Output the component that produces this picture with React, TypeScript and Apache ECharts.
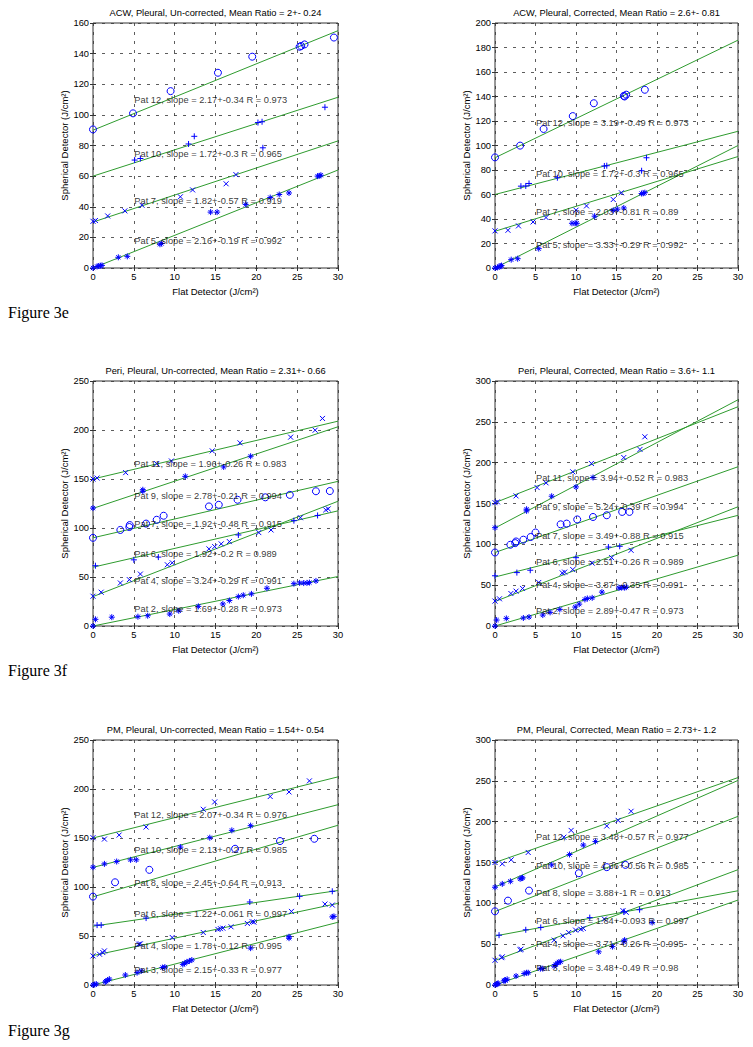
import React, { useEffect, useRef } from "react";
import * as echarts from "echarts";

type Pt = [number, number];

// ---------- Axis settings ----------
const X_MIN = 0;
const X_MAX = 30;
const X_STEP = 5;
const FIT_X: number[] = [0, 30];
const LABEL_X = 5;

// ---------- Panel 1: ACW, Un-corrected ----------
const acwU_pat12: Pt[] = [[0, 90.5], [4.9, 101], [9.5, 115.5], [15.3, 127.5], [19.5, 138], [25.3, 144.5], [25.5, 145], [25.9, 146], [29.5, 150.5]];
const acwU_pat10: Pt[] = [[5.1, 70.5], [5.8, 71.5], [11.7, 81], [12.4, 86], [20.2, 95], [20.7, 95.5], [20.8, 78.5], [28.4, 105]];
const acwU_pat7: Pt[] = [[0, 30.5], [0.3, 31], [1.8, 34], [3.9, 37.3], [6, 41], [10.7, 46.5], [12.2, 51], [16.3, 55], [17.5, 61]];
const acwU_pat5: Pt[] = [[0, 0], [0.5, 1], [0.7, 1.3], [0.9, 1.5], [1.1, 1.7], [3.1, 7], [4.2, 7.6], [8.2, 15.5], [8.4, 16], [14.4, 36.5], [15.2, 36.5], [18.7, 41.5], [21.7, 46], [22.8, 48], [24, 49], [27.5, 60], [27.7, 60.2], [27.9, 60.6]];
const acwU_fitStart = [90, 60, 30, 0];
const acwU_fitEnd = [155, 111.5, 83, 64];
const acwU_labelY = [110, 74.5, 44, 17.5];
const acwU_labels = [
  "Pat 12, slope = 2.17+-0.34 R = 0.973",
  "Pat 10, slope = 1.72+-0.3 R = 0.965",
  "Pat 7, slope = 1.82+-0.57 R = 0.919",
  "Pat 5, slope = 2.16+-0.19 R = 0.992",
];

// ---------- Panel 2: ACW, Corrected ----------
const acwC_pat12: Pt[] = [[0, 90.3], [3.1, 99.9], [6, 113.5], [9.6, 124], [12.2, 134.5], [15.9, 140.5], [16, 140], [16.2, 141.5], [18.5, 145.5]];
const acwC_pat10: Pt[] = [[3.2, 66.8], [3.8, 67], [4.2, 69], [7.7, 73.7], [13.5, 83.3], [13.8, 83.5], [18.1, 79.4], [18.7, 90]];
const acwC_pat7: Pt[] = [[0, 30.3], [1.6, 30.8], [2.9, 34.4], [4.7, 37.6], [6.3, 41.2], [10, 47.2], [11.3, 50.7], [14.6, 55.9], [15.6, 61.4]];
const acwC_pat5: Pt[] = [[0, 0], [0.3, 0.5], [0.5, 1], [0.7, 1.5], [0.8, 2], [2, 6.8], [2.8, 7.6], [5.4, 15.8], [9.5, 36.5], [9.9, 36.5], [10.1, 36.5], [12.3, 42.3], [14.6, 47], [15.1, 48], [15.9, 49], [18.1, 60.8], [18.3, 61], [18.5, 61.5]];
const acwC_fitStart = [90, 60, 30, 0];
const acwC_fitEnd = [186, 111.6, 91, 100];
const acwC_labelY = [118, 77, 46, 18.5];
const acwC_labels = [
  "Pat 12, slope = 3.19+-0.49 R = 0.973",
  "Pat 10, slope = 1.72+-0.3 R = 0.965",
  "Pat 7, slope = 2.03+-0.81 R = 0.89",
  "Pat 5, slope = 3.33+-0.29 R = 0.992",
];

// ---------- Panel 3: Peri, Un-corrected ----------
const periU_pat11: Pt[] = [[0, 150], [0.5, 151], [4, 156.5], [7.8, 165.7], [9.6, 168.4], [14.6, 178.7], [18, 186.9], [24.2, 192.7], [27.2, 199.8], [28.1, 211.8]];
const periU_pat9: Pt[] = [[0, 120.3], [6.1, 137.5], [6.1, 139], [11.3, 152.7], [16, 162.3], [19.3, 173.2]];
const periU_pat7: Pt[] = [[0, 90], [3.35, 98], [4.45, 101], [4.5, 103], [6.5, 104.5], [7.8, 108.4], [8.65, 112.5], [14.2, 122], [15.4, 123.7], [17.7, 128.8], [21.1, 131.3], [24.1, 133.8], [27.3, 137.5], [29, 137.7]];
const periU_pat6: Pt[] = [[0.3, 61.5], [5, 67.5], [8, 70.3], [17.8, 92.9], [24.6, 107.5], [27.5, 112.8]];
const periU_pat4: Pt[] = [[0, 30.4], [1, 34.5], [3.35, 43.9], [4.45, 47.3], [5.8, 53], [9.1, 62.5], [9.7, 64.5], [14.2, 78.7], [14.9, 81], [15.7, 83.8], [16.7, 86.1], [20.3, 95.3], [21.8, 98], [25.4, 110.5], [28.5, 118.5], [28.8, 119.5]];
const periU_pat2: Pt[] = [[0, 0], [0.3, 6.8], [2.3, 9], [5.5, 9.5], [6.7, 10.5], [9.4, 12.2], [10.5, 15.5], [12.9, 20], [15.9, 22.5], [16.7, 26], [17.8, 30], [18.4, 31.4], [19.4, 32.8], [21.3, 38.5], [24.6, 43.2], [25.3, 44], [25.8, 43.8], [26.2, 44], [26.5, 44.3], [27.3, 46]];
const periU_fitStart = [150, 120, 90, 60, 30, 0];
const periU_fitEnd = [209, 203.3, 147.6, 117.5, 127.3, 50.5];
const periU_labelY = [165.7, 133, 104, 73.6, 45.6, 16.9];
const periU_labels = [
  "Pat 11, slope = 1.96+-0.26 R = 0.983",
  "Pat 9, slope = 2.78+-0.21 R = 0.994",
  "Pat 7, slope = 1.92+-0.48 R = 0.915",
  "Pat 6, slope = 1.92+-0.2 R = 0.989",
  "Pat 4, slope = 3.24+-0.29 R = 0.991",
  "Pat 2, slope = 1.69+-0.28 R = 0.973",
];

// ---------- Panel 4: Peri, Corrected ----------
const periC_pat11: Pt[] = [[0, 151], [0.3, 152], [2.6, 159.3], [5.2, 169.5], [6.3, 175.3], [9.6, 188.8], [11.9, 199], [15.9, 206.3], [17.9, 216.2], [18.5, 231.7]];
const periC_pat9: Pt[] = [[0, 120.4], [3.9, 141], [3.9, 143], [7, 158.9], [10, 170.3], [12.1, 181.8]];
const periC_pat7: Pt[] = [[0, 90], [1.9, 99.5], [2.5, 101.5], [2.6, 103.5], [3.5, 105.7], [4.4, 109], [5, 114.5], [8.1, 124.5], [8.85, 125.4], [10.15, 130.5], [12.1, 133.5], [13.8, 135.6], [15.7, 139.7], [16.6, 139.7]];
const periC_pat6: Pt[] = [[0, 61.5], [2.7, 65.4], [4.35, 68.3], [10, 83.7], [14, 96.7], [15.4, 97.6]];
const periC_pat4: Pt[] = [[0, 30.5], [0.55, 33.3], [1.96, 39.8], [2.6, 42.7], [3.4, 46], [5.4, 53.3], [8.3, 65], [8.6, 66], [9.6, 69.1], [12, 77], [14.4, 83.7], [16.8, 92.7]];
const periC_pat2: Pt[] = [[0, 0], [0.2, 7.3], [1.4, 9.3], [3.5, 9.8], [4.2, 11], [5.9, 13.4], [6.8, 16.7], [8, 20.3], [9.9, 23.2], [10.4, 26.8], [11.1, 32.5], [11.4, 33.7], [12, 34.5], [13.2, 41.5], [15.3, 46.7], [15.6, 47], [16, 47], [16.2, 47.5]];
const periC_fitStart = [151, 120, 90, 60, 30, 0];
const periC_fitEnd = [268.5, 277, 195, 135.5, 146, 86.7];
const periC_labelY = [181.4, 145.8, 110, 78.5, 50, 18.7];
const periC_labels = [
  "Pat 11, slope = 3.94+-0.52 R = 0.983",
  "Pat 9, slope = 5.24+-0.39 R = 0.994",
  "Pat 7, slope = 3.49+-0.88 R = 0.915",
  "Pat 6, slope = 2.51+-0.26 R = 0.989",
  "Pat 4, slope = 3.87+-0.35 R = 0.991",
  "Pat 2, slope = 2.89+-0.47 R = 0.973",
];

// ---------- Panel 5: PM, Un-corrected ----------
const pmU_pat12: Pt[] = [[0, 150.3], [1.4, 148.9], [3.2, 153], [6.5, 161.2], [13.5, 179.3], [14.9, 186.8], [21.7, 192.3], [24, 197], [26.5, 208.3]];
const pmU_pat10: Pt[] = [[0, 120.2], [1.4, 123.6], [2.9, 126], [4.6, 127.7], [5.3, 127.7], [10.7, 140.7], [14.3, 150.3], [17, 157.8], [19.3, 162.6]];
const pmU_pat8: Pt[] = [[0, 90.2], [2.7, 104.8], [6.9, 117.5], [17.4, 139], [22.9, 146.9], [27.1, 149.2]];
const pmU_pat6: Pt[] = [[0.5, 61.1], [1, 61.1], [6.5, 68.3], [19.2, 84.7], [25.3, 90.5], [29.3, 95.6]];
const pmU_pat4: Pt[] = [[0, 29.7], [0.8, 31.4], [1.2, 33.1], [1.4, 34.8], [5.6, 41.7], [5.8, 42], [9.7, 48.5], [13.5, 53.6], [15.3, 56.7], [15.6, 57.5], [15.9, 58], [16.9, 59.4], [18.9, 62.8], [19.5, 64.5], [19.7, 64.2], [24.3, 75.1], [28.4, 82.6], [29.3, 81.6]];
const pmU_pat3: Pt[] = [[0, 0], [0.2, 0.5], [0.4, 1], [1.5, 3], [1.6, 4], [1.8, 5], [2, 6], [3.96, 10.2], [5.4, 12.6], [5.9, 14.3], [8.5, 17.8], [8.8, 18.3], [11, 21], [11.2, 22], [11.5, 23.5], [11.8, 24.5], [12.1, 25.5], [19.3, 37.6], [24, 47.8], [24, 49.2], [29.3, 69.5], [29.5, 70]];
const pmU_fitStart = [150, 120, 90, 60, 30, 0];
const pmU_fitEnd = [212.4, 184, 163, 96.4, 83.3, 64];
const pmU_labelY = [173.8, 137.3, 103.8, 72.4, 39.3, 15];
const pmU_labels = [
  "Pat 12, slope = 2.07+-0.34 R = 0.976",
  "Pat 10, slope = 2.13+-0.27 R = 0.985",
  "Pat 8, slope = 2.45+-0.64 R = 0.913",
  "Pat 6, slope = 1.22+-0.061 R = 0.997",
  "Pat 4, slope = 1.78+-0.12 R = 0.995",
  "Pat 3, slope = 2.15+-0.33 R = 0.977",
];

// ---------- Panel 6: PM, Corrected ----------
const pmC_pat12: Pt[] = [[0, 150], [0.9, 148.4], [2, 153.3], [4.1, 162.3], [8.5, 181], [9.4, 189.3], [13.8, 194.7], [15.2, 201.6], [16.8, 212.7]];
const pmC_pat10: Pt[] = [[0, 119.7], [0.9, 123.8], [1.9, 127], [3.1, 130], [3.3, 130.8], [3.4, 131.2], [7, 147.1], [9.2, 159.8], [10.9, 171.3], [12.4, 175.8]];
const pmC_pat8: Pt[] = [[0, 90.2], [1.6, 103.3], [4.2, 115.6], [10.35, 136.9], [13.8, 144.3], [16.1, 147.1]];
const pmC_pat6: Pt[] = [[0.5, 61], [3.8, 67.6], [5.65, 70.5], [11.7, 82.5], [15.9, 89.8], [17.85, 92.2]];
const pmC_pat4: Pt[] = [[0, 30.3], [0.8, 33.5], [0.9, 34.5], [3.1, 43], [3.2, 43.8], [7.3, 54.9], [8.4, 60.2], [9.1, 64.3], [9.95, 67.2], [10.6, 68.3], [10.9, 69.3], [13.5, 80.7], [15.8, 91], [16.2, 89]];
const pmC_pat3: Pt[] = [[0, 0], [0.2, 1], [0.3, 1.5], [0.4, 2], [1.1, 5], [1.2, 6], [1.3, 5.5], [1.5, 7], [2.6, 11], [3.6, 14], [3.9, 15], [4.1, 15], [5.6, 20], [5.9, 20], [7.3, 23], [7.5, 25], [7.7, 27], [7.9, 28], [8.1, 28.5], [12.8, 40.6], [14.5, 47], [15.9, 53], [16, 55], [19.4, 76.5]];
const pmC_fitStart = [150, 120, 90, 60, 30, 0];
const pmC_fitEnd = [254, 250.5, 206.5, 115.4, 141.2, 104];
const pmC_labelY = [181, 145.5, 112.3, 77.9, 50, 20.5];
const pmC_labels = [
  "Pat 12, slope = 3.48+-0.57 R = 0.977",
  "Pat 10, slope = 4.36+-0.56 R = 0.985",
  "Pat 8, slope = 3.88+-1 R = 0.913",
  "Pat 6, slope = 1.84+-0.093 R = 0.997",
  "Pat 4, slope = 3.71+-0.26 R = 0.995",
  "Pat 3, slope = 3.48+-0.49 R = 0.98",
];

// ---------- Titles / figure labels ----------
const panelTitles = [
  "ACW, Pleural, Un-corrected, Mean Ratio = 2+- 0.24",
  "ACW, Pleural, Corrected, Mean Ratio = 2.6+- 0.81",
  "Peri, Pleural, Un-corrected, Mean Ratio = 2.31+- 0.66",
  "Peri, Pleural, Corrected, Mean Ratio = 3.6+- 1.1",
  "PM, Pleural, Un-corrected, Mean Ratio = 1.54+- 0.54",
  "PM, Pleural, Corrected, Mean Ratio = 2.73+- 1.2",
];
const panelYMax = [160, 200, 250, 300, 250, 300];
const panelYStep = [20, 20, 50, 50, 50, 50];
const figureLabels = ["Figure 3e", "Figure 3f", "Figure 3g"];
const X_NAME = "Flat Detector (J/cm\u00B2)";
const Y_NAME = "Spherical Detector (J/cm\u00B2)";

// ---------- Markers ----------
const SYM: Record<string, string> = {
  o: "circle",
  plus: "path://M5 0L5 10M0 5L10 5",
  x: "path://M0 0L10 10M10 0L0 10",
  star: "path://M5 0L5 10M0 5L10 5M1.5 1.5L8.5 8.5M8.5 1.5L1.5 8.5",
};
const SYM_SIZE: Record<string, number> = { o: 7, plus: 6, x: 5, star: 6 };

const panelSeries: { pts: Pt[]; marker: string }[][] = [
  [
    { pts: acwU_pat12, marker: "o" },
    { pts: acwU_pat10, marker: "plus" },
    { pts: acwU_pat7, marker: "x" },
    { pts: acwU_pat5, marker: "star" },
  ],
  [
    { pts: acwC_pat12, marker: "o" },
    { pts: acwC_pat10, marker: "plus" },
    { pts: acwC_pat7, marker: "x" },
    { pts: acwC_pat5, marker: "star" },
  ],
  [
    { pts: periU_pat11, marker: "x" },
    { pts: periU_pat9, marker: "star" },
    { pts: periU_pat7, marker: "o" },
    { pts: periU_pat6, marker: "plus" },
    { pts: periU_pat4, marker: "x" },
    { pts: periU_pat2, marker: "star" },
  ],
  [
    { pts: periC_pat11, marker: "x" },
    { pts: periC_pat9, marker: "star" },
    { pts: periC_pat7, marker: "o" },
    { pts: periC_pat6, marker: "plus" },
    { pts: periC_pat4, marker: "x" },
    { pts: periC_pat2, marker: "star" },
  ],
  [
    { pts: pmU_pat12, marker: "x" },
    { pts: pmU_pat10, marker: "star" },
    { pts: pmU_pat8, marker: "o" },
    { pts: pmU_pat6, marker: "plus" },
    { pts: pmU_pat4, marker: "x" },
    { pts: pmU_pat3, marker: "star" },
  ],
  [
    { pts: pmC_pat12, marker: "x" },
    { pts: pmC_pat10, marker: "star" },
    { pts: pmC_pat8, marker: "o" },
    { pts: pmC_pat6, marker: "plus" },
    { pts: pmC_pat4, marker: "x" },
    { pts: pmC_pat3, marker: "star" },
  ],
];
const panelFitStart = [acwU_fitStart, acwC_fitStart, periU_fitStart, periC_fitStart, pmU_fitStart, pmC_fitStart];
const panelFitEnd = [acwU_fitEnd, acwC_fitEnd, periU_fitEnd, periC_fitEnd, pmU_fitEnd, pmC_fitEnd];
const panelLabelY = [acwU_labelY, acwC_labelY, periU_labelY, periC_labelY, pmU_labelY, pmC_labelY];
const panelLabels = [acwU_labels, acwC_labels, periU_labels, periC_labels, pmU_labels, pmC_labels];

// ---------- Layout ----------
const W = 753;
const H = 1047;
const ROW_TOP = [23, 381, 740];
const COL_LEFT = [93, 495];
const COL_WIDTH = [245, 243];
const PLOT_H = 245;
const FIG_LABEL_Y = [312, 670, 1030];

const SANS = "'Liberation Sans', Arial, Helvetica, sans-serif";
const SERIF = "'Liberation Serif', 'Times New Roman', serif";
const FS = 9.3;
const BLUE = "#0000ff";
const GREEN = "#2e9b2e";
const AX = "#333";

function buildOption() {
  const grids: any[] = [];
  const xAxes: any[] = [];
  const yAxes: any[] = [];
  const series: any[] = [];
  const graphics: any[] = [];

  for (let i = 0; i < 6; i++) {
    const row = Math.floor(i / 2);
    const col = i % 2;
    const left = COL_LEFT[col];
    const width = COL_WIDTH[col];
    const top = ROW_TOP[row];
    grids.push({
      left,
      top,
      width,
      height: PLOT_H,
      show: true,
      borderColor: AX,
      borderWidth: 1,
      backgroundColor: "transparent",
      containLabel: false,
    });
    const tick = { show: true, inside: true, length: 3, lineStyle: { color: AX, width: 1 } };
    const split = { show: true, lineStyle: { color: AX, width: 0.8, type: [3, 6] } };
    xAxes.push({
      type: "value",
      gridIndex: i,
      position: "bottom",
      min: X_MIN,
      max: X_MAX,
      interval: X_STEP,
      axisLine: { show: false },
      axisTick: tick,
      axisLabel: { fontSize: FS, color: "#000", margin: 4, fontFamily: SANS },
      splitLine: split,
      name: X_NAME,
      nameLocation: "middle",
      nameGap: 18,
      nameTextStyle: { fontSize: FS + 0.2, color: "#000", fontFamily: SANS },
    });
    xAxes.push({
      type: "value",
      gridIndex: i,
      position: "top",
      min: X_MIN,
      max: X_MAX,
      interval: X_STEP,
      axisLine: { show: false },
      axisTick: tick,
      axisLabel: { show: false },
      splitLine: { show: false },
    });
    yAxes.push({
      type: "value",
      gridIndex: i,
      position: "left",
      min: 0,
      max: panelYMax[i],
      interval: panelYStep[i],
      axisLine: { show: false },
      axisTick: tick,
      axisLabel: { fontSize: FS, color: "#000", margin: 4, fontFamily: SANS },
      splitLine: split,
      name: Y_NAME,
      nameLocation: "middle",
      nameGap: 21,
      nameTextStyle: { fontSize: FS + 0.2, color: "#000", fontFamily: SANS },
    });
    yAxes.push({
      type: "value",
      gridIndex: i,
      position: "right",
      min: 0,
      max: panelYMax[i],
      interval: panelYStep[i],
      axisLine: { show: false },
      axisTick: tick,
      axisLabel: { show: false },
      splitLine: { show: false },
    });

    const xi = 2 * i;
    const yi = 2 * i;
    panelSeries[i].forEach((s, j) => {
      series.push({
        type: "line",
        xAxisIndex: xi,
        yAxisIndex: yi,
        data: FIT_X.map((x, k) => [x, k === 0 ? panelFitStart[i][j] : panelFitEnd[i][j]]),
        symbol: "none",
        silent: true,
        lineStyle: { color: GREEN, width: 1 },
        z: 2,
      });
      series.push({
        type: "scatter",
        xAxisIndex: xi,
        yAxisIndex: yi,
        data: s.pts,
        symbol: SYM[s.marker],
        symbolSize: SYM_SIZE[s.marker],
        silent: true,
        itemStyle: { color: "transparent", borderColor: BLUE, borderWidth: 1, opacity: 1 },
        z: 3,
      });
    });
    series.push({
      type: "scatter",
      xAxisIndex: xi,
      yAxisIndex: yi,
      silent: true,
      symbolSize: 1,
      itemStyle: { color: "rgba(0,0,0,0)" },
      data: panelLabels[i].map((t, j) => ({ value: [LABEL_X, panelLabelY[i][j]], name: t })),
      label: {
        show: true,
        position: "right",
        distance: 0,
        formatter: "{b}",
        fontSize: FS,
        color: "#000",
        fontFamily: SANS,
      },
      z: 4,
    });

    graphics.push({
      type: "text",
      x: left + width / 2,
      y: top - 10.5,
      silent: true,
      style: {
        text: panelTitles[i],
        font: `${FS}px ${SANS}`,
        fill: "#000",
        textAlign: "center",
        align: "center",
        textVerticalAlign: "middle",
        verticalAlign: "middle",
      },
    });
  }

  figureLabels.forEach((t, r) => {
    graphics.push({
      type: "text",
      x: 8,
      y: FIG_LABEL_Y[r],
      silent: true,
      style: {
        text: t,
        font: `16px ${SERIF}`,
        fill: "#000",
        textAlign: "left",
        align: "left",
        textVerticalAlign: "middle",
        verticalAlign: "middle",
      },
    });
  });

  return {
    animation: false,
    backgroundColor: "#ffffff",
    grid: grids,
    xAxis: xAxes,
    yAxis: yAxes,
    series,
    graphic: graphics,
  };
}

export default function App() {
  const ref = useRef<HTMLDivElement>(null);
  useEffect(() => {
    if (!ref.current) return;
    const chart = echarts.init(ref.current, undefined, { renderer: "svg", width: W, height: H });
    chart.setOption(buildOption() as any);
    return () => {
      chart.dispose();
    };
  }, []);
  return (
    <div
      ref={ref}
      style={{ position: "absolute", left: 0, top: 0, width: W, height: H, background: "#fff" }}
    />
  );
}
